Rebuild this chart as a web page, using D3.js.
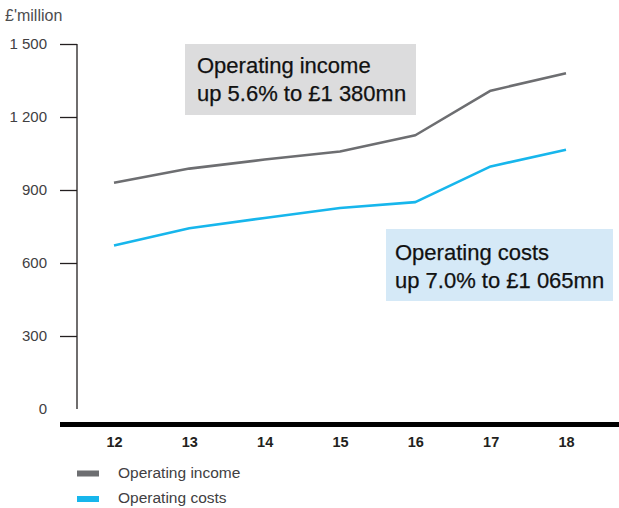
<!DOCTYPE html>
<html>
<head>
<meta charset="utf-8">
<script src="https://cdn.jsdelivr.net/npm/d3@7"></script>
<style>
  html, body { margin: 0; padding: 0; background: #fff; }
  svg { display: block; font-family: "Liberation Sans", Arial, Helvetica, sans-serif; }
</style>
</head>
<body>
<svg id="chart" width="619" height="508"></svg>
<script>
// Financial years (20xx)
const years = ["12", "13", "14", "15", "16", "17", "18"];
// £ million
const operatingIncome = [930, 988, 1025, 1058, 1125, 1308, 1380];
const operatingCosts = [672, 743, 785, 826, 850, 997, 1065];
const yTicks = [0, 300, 600, 900, 1200, 1500];
const seriesNames = ["Operating income", "Operating costs"];
const seriesColors = ["#6d6e71", "#17b6ec"];
const callouts = [
  { lines: ["Operating income", "up 5.6% to £1 380mn"], fill: "#dcdcdd" },
  { lines: ["Operating costs", "up 7.0% to £1 065mn"], fill: "#d5e9f7" }
];

const svg = d3.select("#chart");

const x = d3.scalePoint().domain(years).range([114, 566]);
const y = d3.scaleLinear().domain([0, 1500]).range([409, 44]);

// unit label
svg.append("text")
  .attr("x", 5).attr("y", 21)
  .attr("font-size", 16).attr("fill", "#4d4d4f")
  .text("£'million");

// y axis
const fmt = v => d3.format(",")(v).replace(",", " ");
const yAxis = svg.append("g")
  .attr("transform", "translate(77,0)")
  .call(d3.axisLeft(y).tickValues(yTicks).tickSize(17).tickPadding(13).tickFormat(fmt));
yAxis.select(".domain").attr("stroke", "#231f20").attr("stroke-width", 1.3)
  .attr("d", `M0,${y(1500)}V${y(0)}`);
yAxis.selectAll(".tick line").attr("stroke", "#231f20").attr("stroke-width", 1.3)
  .attr("display", d => d === 0 ? "none" : null);
yAxis.selectAll(".tick text")
  .attr("font-size", 15).attr("fill", "#414042")
  .attr("font-family", "Liberation Sans, Arial, sans-serif");

// x axis base bar and year labels
svg.append("line")
  .attr("x1", 60).attr("x2", 619).attr("y1", 424.5).attr("y2", 424.5)
  .attr("stroke", "#000").attr("stroke-width", 5);
const xAxis = svg.append("g")
  .attr("transform", "translate(0,428)")
  .call(d3.axisBottom(x).tickSize(0).tickPadding(9));
xAxis.select(".domain").remove();
xAxis.selectAll(".tick text")
  .attr("font-size", 14.5).attr("font-weight", "bold").attr("fill", "#231f20")
  .attr("font-family", "Liberation Sans, Arial, sans-serif");

// series lines
const line = d3.line().x((d, i) => x(years[i])).y(d => y(d));
[operatingIncome, operatingCosts].forEach((s, k) => {
  svg.append("path")
    .datum(s)
    .attr("d", line)
    .attr("fill", "none")
    .attr("stroke", seriesColors[k])
    .attr("stroke-width", 2.6)
    .attr("stroke-linejoin", "round");
});

// callout boxes
const boxes = [
  { x: 185, y: 44, w: 231, h: 71, tx: 12, b1: 29 },
  { x: 386, y: 229, w: 227, h: 72, tx: 9, b1: 31 }
];
callouts.forEach((c, k) => {
  const b = boxes[k];
  svg.append("rect")
    .attr("x", b.x).attr("y", b.y).attr("width", b.w).attr("height", b.h)
    .attr("fill", c.fill);
  c.lines.forEach((t, j) => {
    svg.append("text")
      .attr("x", b.x + b.tx).attr("y", b.y + b.b1 + j * 27.5)
      .attr("font-size", 22).attr("fill", "#111")
      .attr("stroke", "#111").attr("stroke-width", 0.25)
      .text(t);
  });
});

// legend
seriesNames.forEach((n, k) => {
  const ly = 473.5 + k * 25.5;
  svg.append("rect")
    .attr("x", 77).attr("y", ly - 3).attr("width", 22).attr("height", 6)
    .attr("fill", seriesColors[k]);
  svg.append("text")
    .attr("x", 118).attr("y", ly + 4)
    .attr("font-size", 15.5).attr("fill", "#414042")
    .text(n);
});
</script>
</body>
</html>
